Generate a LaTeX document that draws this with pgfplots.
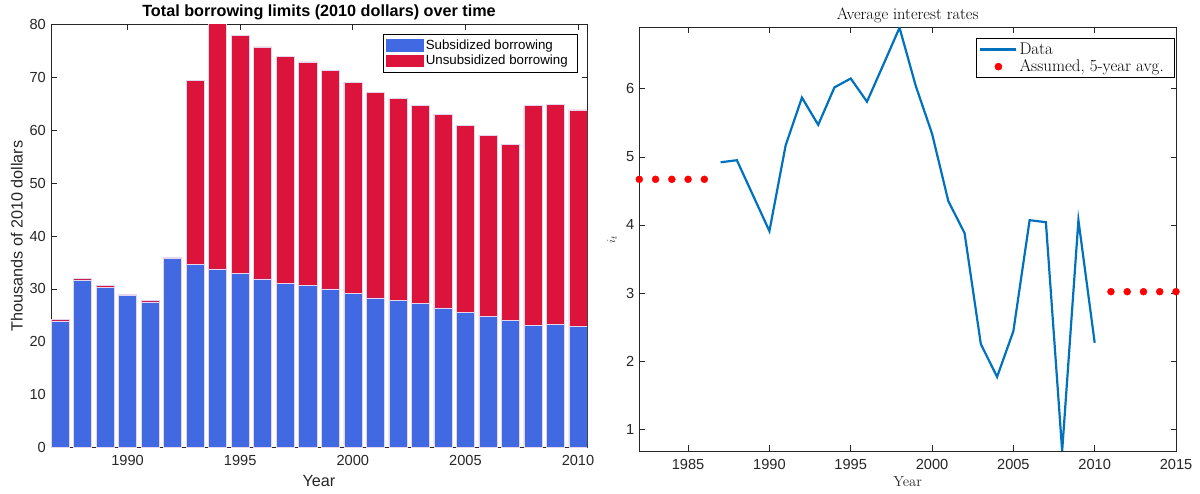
\documentclass[border=0pt]{standalone}
\usepackage{fontspec}
\setsansfont{Liberation Sans}
\usepackage{pgfplots}
\pgfplotsset{compat=1.18}
\definecolor{subblue}{RGB}{65,105,225}
\definecolor{unsubred}{RGB}{220,20,60}
\definecolor{mblue}{RGB}{0,114,189}
\definecolor{axgray}{RGB}{38,38,38}
\definecolor{edgec}{RGB}{228,214,236}
\pgfplotsset{
  mlstyle/.style={
    scale only axis,
    tick align=inside,
    major tick length=5.5pt,
    tick style={axgray, line width=0.6pt},
    axis line style={axgray, line width=0.7pt},
    /pgf/number format/assume math mode=true,
    /pgf/number format/set thousands separator={},
    tick label style={font=\sffamily\fontsize{14.6}{17}\selectfont, text=axgray},
    xticklabel style={yshift=-4.4pt},
    yticklabel style={xshift=-1.6pt},
    legend cell align=left,
    every axis title shift=0pt,
  },
  barleg/.style={legend image code/.code={\fill[##1,draw=none] (0pt,-6.2pt) rectangle (38pt,6.2pt);}},
  lineleg/.style={legend image code/.code={\draw[##1, line width=2.2pt] (0pt,0pt) -- (36pt,0pt);}},
  dotleg/.style={legend image code/.code={\draw[mark repeat=2,mark phase=2,##1] plot coordinates {(0pt,0pt) (18pt,0pt) (36pt,0pt)};}},
}
\begin{document}
\begin{tikzpicture}[x=1pt,y=1pt]
\useasboundingbox (0,0) rectangle (1200,494);
% ---------------- left: stacked bars ----------------
\begin{axis}[
  mlstyle,
  at={(51pt,46.6pt)}, anchor=south west,
  width=536pt, height=422.8pt,
  xmin=1986.6, xmax=2010.4, ymin=0, ymax=80,
  ybar stacked, bar width=0.8,
  xtick={1990,1995,2000,2005,2010},
  ytick={0,10,20,30,40,50,60,70,80},
  title={Total borrowing limits (2010 dollars) over time},
  title style={at={(axis description cs:0.5,1)}, anchor=base, yshift=8.1pt,
    font=\sffamily\bfseries\fontsize{16.2}{19}\selectfont},
  xlabel={Year},
  xlabel style={at={(axis description cs:0.5,0)}, anchor=base, yshift=-39.6pt,
    font=\sffamily\fontsize{16.2}{19}\selectfont, text=axgray},
  ylabel={Thousands of 2010 dollars},
  ylabel style={at={(axis description cs:-0.0528,0.5)}, anchor=base,
    font=\sffamily\fontsize{16.2}{19}\selectfont, text=axgray},
  legend style={at={(axis description cs:1,1)}, anchor=north east,
    xshift=-9.7pt, yshift=-9.4pt, draw=black, line width=0.6pt,
    inner xsep=2.3pt, inner ysep=3.8pt,
    font=\sffamily\fontsize{13.3}{15}\selectfont},
]
\addplot[fill=subblue, draw=edgec, line width=0.5pt, barleg]
  coordinates {
  (1987,23.95) (1988,31.7) (1989,30.3) (1990,28.7) (1991,27.55) (1992,35.7)
  (1993,34.7) (1994,33.8) (1995,32.9) (1996,31.9) (1997,31.1) (1998,30.7)
  (1999,30.0) (2000,29.1) (2001,28.3) (2002,27.8) (2003,27.2) (2004,26.4)
  (2005,25.6) (2006,24.8) (2007,24.1) (2008,23.1) (2009,23.3) (2010,22.95)
  };
\addlegendentry{Subsidized borrowing}
\addplot[fill=unsubred, draw=edgec, line width=0.5pt, barleg]
  coordinates {
  (1987,0.25) (1988,0.25) (1989,0.3) (1990,0.3) (1991,0.25) (1992,0.2)
  (1993,34.8) (1994,47.2) (1995,45.1) (1996,43.9) (1997,42.9) (1998,42.25)
  (1999,41.35) (2000,40.0) (2001,38.9) (2002,38.25) (2003,37.45) (2004,36.6)
  (2005,35.4) (2006,34.3) (2007,33.3) (2008,41.55) (2009,41.55) (2010,40.9)
  };
\addlegendentry{Unsubsidized borrowing\rule{5pt}{0pt}}
\end{axis}
% ---------------- right: interest rates ----------------
\begin{axis}[
  mlstyle,
  at={(639.3pt,43pt)}, anchor=south west,
  width=536.7pt, height=423.3pt,
  xmin=1982, xmax=2015, ymin=0.681, ymax=6.896,
  xtick={1985,1990,1995,2000,2005,2010,2015},
  ytick={1,2,3,4,5,6},
  title={Average interest rates},
  title style={at={(axis description cs:0.5,1)}, anchor=base, yshift=7.7pt,
    font=\rmfamily\fontsize{16.4}{19}\selectfont},
  xlabel={Year},
  xlabel style={at={(axis description cs:0.5,0)}, anchor=base, yshift=-35.7pt,
    font=\rmfamily\fontsize{14.6}{17}\selectfont, text=axgray},
  ylabel={$i_t$},
  ylabel style={at={(axis description cs:-0.0509,0.5)}, anchor=center,
    font=\rmfamily\fontsize{13}{15}\selectfont, text=axgray},
  legend style={at={(axis description cs:1,1)}, anchor=north east,
    xshift=-1pt, yshift=-10.6pt, draw=black, line width=0.6pt,
    inner xsep=3pt, inner ysep=2.3pt,
    font=\rmfamily\fontsize{16.9}{19}\selectfont},
]
\addplot[mblue, line width=2.2pt, lineleg]
  coordinates {
  (1987,4.92) (1988,4.95) (1989,4.43) (1990,3.91) (1991,5.17) (1992,5.87)
  (1993,5.47) (1994,6.02) (1995,6.15) (1996,5.81) (1997,6.35) (1998,6.896)
  (1999,6.04) (2000,5.34) (2001,4.35) (2002,3.88) (2003,2.25) (2004,1.77)
  (2005,2.44) (2006,4.07) (2007,4.04) (2008,0.681) (2009,4.07) (2010,2.27)
  };
\addlegendentry{Data}
\addplot[only marks, mark=*, mark size=3.5pt, color=red, mark options={fill=red, draw=red}, dotleg]
  coordinates {
  (1982,4.67) (1983,4.67) (1984,4.67) (1985,4.67) (1986,4.67)
  (2011,3.02) (2012,3.02) (2013,3.02) (2014,3.02) (2015,3.02)
  };
\addlegendentry{Assumed, 5-year avg.\rule{6pt}{0pt}}
\end{axis}
\end{tikzpicture}
\end{document}
